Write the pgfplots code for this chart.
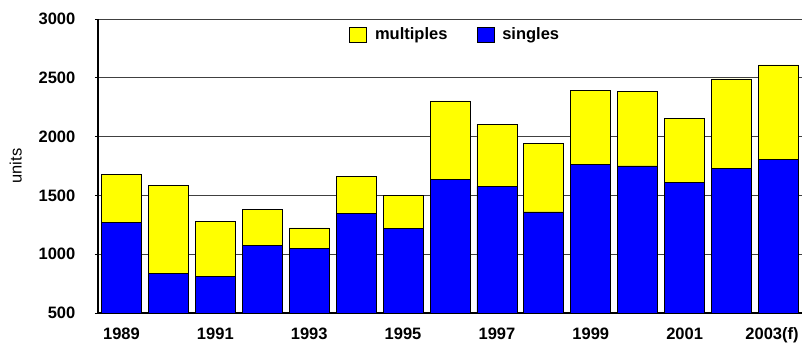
\documentclass[border=0pt]{standalone}
\usepackage{pgfplots}
\pgfplotsset{compat=1.18}
\usepackage{pgfplotstable}
\usepackage{fontspec}
\setmainfont{Liberation Sans}
\definecolor{barblue}{RGB}{0,0,255}
\definecolor{baryellow}{RGB}{255,255,0}
\pgfplotstableread{
x year singles multiples
0 1989 1270 408
1 1990 840 748
2 1991 809 473
3 1992 1072 306
4 1993 1047 176
5 1994 1344 318
6 1995 1220 277
7 1996 1633 670
8 1997 1577 527
9 1998 1359 581
10 1999 1764 626
11 2000 1750 635
12 2001 1608 550
13 2002 1730 760
14 2003 1804 805
}\datatable
\begin{document}
\begin{tikzpicture}
\fontsize{16.5bp}{20bp}\selectfont
\begin{axis}[
  name=ax,
  width=704bp, height=294bp, scale only axis,
  ybar stacked, bar width=40bp,
  xmin=-0.5, xmax=14.5,
  ymin=500, ymax=3000,
  ytick={500,1000,...,3000},
  xtick=data,
  xticklabels={1989,,1991,,1993,,1995,,1997,,1999,,2001,,\hspace*{-13bp}2003(f)},
  axis x line*=bottom, axis y line*=left,
  x axis line style={line width=1.6pt, -},
  y axis line style={line width=1.2pt, -},
  ymajorgrids, grid style={black!75, line width=0.8pt},
  major x tick style={draw=none},
  major y tick style={black, line width=0.8pt},
  major tick length=3bp,
  tick align=outside,
  /pgf/number format/assume math mode=true,
  /pgf/number format/1000 sep={},
  ticklabel style={font=\fontsize{16.5bp}{20bp}\selectfont\bfseries},
  yticklabel style={xshift=-14bp},
  xticklabel style={yshift=-6bp},
  ylabel={units},
  every axis y label/.append style={at={(axis description cs:-0.117,0.5)}, anchor=center, font=\fontsize{16.5bp}{20bp}\selectfont},
  reverse legend,
  legend columns=2,
  legend style={draw=none, fill=none, at={(0.506,0.946)}, anchor=center,
    font=\fontsize{16.5bp}{20bp}\selectfont\bfseries,
    nodes={inner sep=0pt, anchor=west},
    /tikz/every odd column/.append style={column sep=8bp},
    /tikz/every even column/.append style={column sep=29bp}},
  legend image code/.code={\draw[#1,draw=black,line width=0.8pt] (0bp,-7.5bp) rectangle (17bp,7.5bp);},
]
\addplot[fill=barblue, draw=black, line width=0.8pt] table[x=x, y=singles] {\datatable};
\addplot[fill=baryellow, draw=black, line width=0.8pt] table[x=x, y=multiples] {\datatable};
\legend{singles, multiples}
\end{axis}
\pgfresetboundingbox
\path ([shift={(-98bp,-30bp)}]ax.south west) rectangle ([shift={(0bp,19bp)}]ax.north east);
\end{tikzpicture}
\end{document}
